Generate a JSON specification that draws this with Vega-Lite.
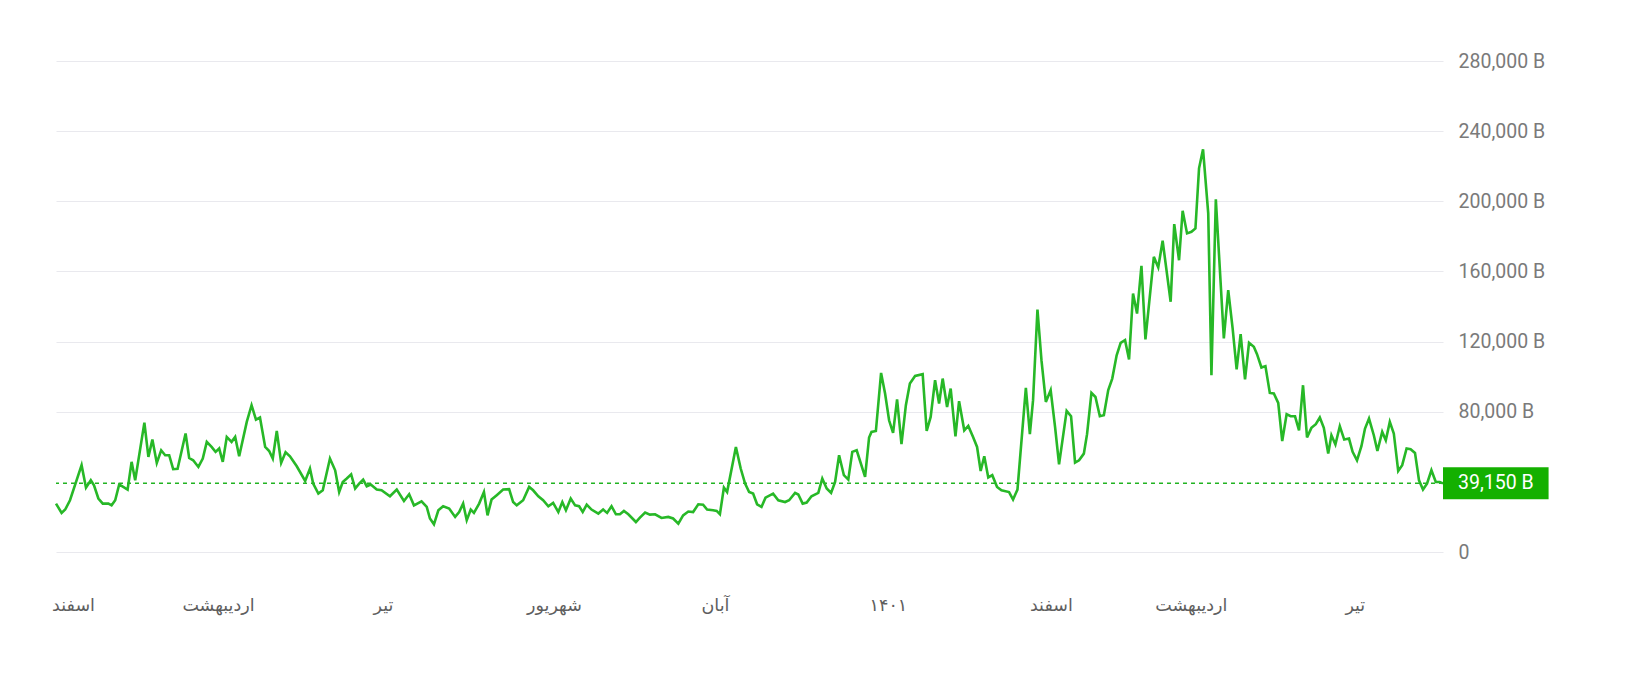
{
  "$schema": "https://vega.github.io/schema/vega-lite/v6.json",
  "width": 1387,
  "height": 491,
  "autosize": {"type": "none"},
  "padding": {"left": 56, "top": 61, "right": 196, "bottom": 140},
  "background": "white",
  "config": {"view": {"stroke": null}},
  "datasets": {
    "series": [
      {"day":0,"value":27600},{"day":1.4,"value":22300},{"day":2.3,"value":24200},{"day":3.5,"value":29500},{"day":5.2,"value":41300},{"day":6.4,"value":49500},{"day":7.5,"value":36700},{"day":8.7,"value":40900},{"day":9.5,"value":38000},{"day":10.6,"value":30500},{"day":11.7,"value":27600},{"day":13.1,"value":27600},{"day":13.9,"value":26600},{"day":14.8,"value":29500},{"day":15.8,"value":38500},{"day":16.8,"value":37100},{"day":17.9,"value":35600},{"day":18.9,"value":51400},{"day":19.8,"value":40900},{"day":22.1,"value":73800},{"day":23.1,"value":54200},{"day":24.1,"value":64100},{"day":25.2,"value":50800},{"day":26.3,"value":58000},{"day":27.3,"value":55200},{"day":28.3,"value":55200},{"day":29.3,"value":47200},{"day":30.4,"value":47400},{"day":32.4,"value":67600},{"day":33.3,"value":53600},{"day":34.3,"value":52300},{"day":35.6,"value":48500},{"day":36.7,"value":53300},{"day":37.7,"value":62800},{"day":38.9,"value":59900},{"day":39.9,"value":57100},{"day":40.8,"value":59000},{"day":41.7,"value":51400},{"day":42.7,"value":65600},{"day":43.9,"value":62800},{"day":44.8,"value":65600},{"day":45.8,"value":54600},{"day":47.7,"value":74200},{"day":48.9,"value":83700},{"day":50,"value":75500},{"day":51,"value":76700},{"day":52.3,"value":59900},{"day":53.3,"value":57600},{"day":54.2,"value":53300},{"day":55.2,"value":69000},{"day":56.3,"value":50800},{"day":57.4,"value":56900},{"day":58.5,"value":54600},{"day":60.2,"value":48900},{"day":62.3,"value":40500},{"day":63.5,"value":47600},{"day":64.3,"value":39000},{"day":65.6,"value":33300},{"day":66.7,"value":35200},{"day":68.5,"value":53300},{"day":69.8,"value":46600},{"day":70.8,"value":34200},{"day":71.7,"value":39900},{"day":72.7,"value":41900},{"day":73.8,"value":44300},{"day":74.8,"value":36200},{"day":75.8,"value":39000},{"day":76.8,"value":41300},{"day":77.7,"value":37500},{"day":78.7,"value":38500},{"day":80.2,"value":35600},{"day":81.4,"value":35200},{"day":83.5,"value":31800},{"day":85.2,"value":35600},{"day":87,"value":29100},{"day":88.3,"value":32900},{"day":89.5,"value":26600},{"day":91.4,"value":28900},{"day":92.7,"value":25700},{"day":93.5,"value":19100},{"day":94.5,"value":15800},{"day":95.6,"value":23800},{"day":96.8,"value":26100},{"day":98.3,"value":24800},{"day":99.8,"value":20000},{"day":100.8,"value":22800},{"day":101.8,"value":27600},{"day":102.7,"value":18100},{"day":103.7,"value":24200},{"day":104.5,"value":22300},{"day":105.8,"value":27600},{"day":107,"value":34200},{"day":107.9,"value":20900},{"day":108.9,"value":29900},{"day":110.2,"value":32400},{"day":111.8,"value":35600},{"day":113.3,"value":35800},{"day":114.3,"value":28500},{"day":115.2,"value":26600},{"day":116.8,"value":29500},{"day":118.3,"value":37100},{"day":119.3,"value":35200},{"day":120.6,"value":31800},{"day":121.8,"value":29500},{"day":123.1,"value":26100},{"day":124.3,"value":28000},{"day":125.6,"value":22800},{"day":126.6,"value":28500},{"day":127.5,"value":23800},{"day":128.7,"value":30500},{"day":129.8,"value":26600},{"day":130.8,"value":26100},{"day":131.7,"value":22800},{"day":132.7,"value":27000},{"day":133.9,"value":24200},{"day":135.6,"value":21900},{"day":136.8,"value":24200},{"day":137.8,"value":22300},{"day":138.9,"value":26100},{"day":140,"value":21500},{"day":141,"value":21500},{"day":142,"value":23400},{"day":143.1,"value":21500},{"day":145,"value":17100},{"day":146,"value":19600},{"day":147.3,"value":22500},{"day":148.5,"value":21300},{"day":149.8,"value":21500},{"day":151.4,"value":19400},{"day":153.1,"value":20000},{"day":154.3,"value":19100},{"day":155.6,"value":16200},{"day":156.8,"value":20900},{"day":158.1,"value":23100},{"day":159.3,"value":22800},{"day":160.6,"value":27200},{"day":161.8,"value":27000},{"day":162.8,"value":24200},{"day":164.3,"value":23800},{"day":165.2,"value":23400},{"day":166,"value":21500},{"day":167,"value":36700},{"day":167.8,"value":34200},{"day":170,"value":59900},{"day":171.2,"value":47600},{"day":172.3,"value":39000},{"day":173.3,"value":34200},{"day":174.3,"value":33300},{"day":175.3,"value":27200},{"day":176.4,"value":25700},{"day":177.4,"value":31000},{"day":179.3,"value":33300},{"day":180.6,"value":29500},{"day":182.3,"value":28500},{"day":183.3,"value":29500},{"day":184.8,"value":33700},{"day":185.6,"value":32800},{"day":186.7,"value":27600},{"day":187.7,"value":28200},{"day":188.9,"value":31800},{"day":190.6,"value":33700},{"day":191.6,"value":41900},{"day":192.7,"value":36200},{"day":193.8,"value":33700},{"day":194.8,"value":39900},{"day":195.8,"value":55200},{"day":197,"value":43800},{"day":198.1,"value":41300},{"day":199.1,"value":57100},{"day":200.2,"value":58000},{"day":202.3,"value":42800},{"day":203.3,"value":65300},{"day":203.9,"value":68500},{"day":205,"value":69000},{"day":206.3,"value":102100},{"day":207.3,"value":90400},{"day":208.3,"value":75100},{"day":209.3,"value":67900},{"day":210.3,"value":87000},{"day":211.4,"value":61500},{"day":212.5,"value":83700},{"day":213.5,"value":96100},{"day":214.8,"value":100400},{"day":216.7,"value":101400},{"day":217.7,"value":69000},{"day":218.7,"value":77000},{"day":219.8,"value":98000},{"day":220.8,"value":84700},{"day":221.7,"value":98900},{"day":222.8,"value":82700},{"day":223.7,"value":93200},{"day":224.9,"value":66000},{"day":225.8,"value":86000},{"day":227.1,"value":69400},{"day":228.1,"value":71900},{"day":229.3,"value":65600},{"day":230.3,"value":59900},{"day":231.2,"value":46200},{"day":232.1,"value":54600},{"day":233.1,"value":42500},{"day":234.1,"value":43800},{"day":235.3,"value":37100},{"day":236.4,"value":35200},{"day":238.3,"value":34200},{"day":239.3,"value":29900},{"day":240.4,"value":35600},{"day":242.5,"value":93600},{"day":243.5,"value":67200},{"day":244.3,"value":86600},{"day":245.4,"value":138300},{"day":246.4,"value":109400},{"day":247.5,"value":85600},{"day":248.7,"value":92300},{"day":249.8,"value":71300},{"day":250.8,"value":50000},{"day":252.7,"value":80500},{"day":253.8,"value":77400},{"day":254.8,"value":51000},{"day":255.8,"value":52300},{"day":257,"value":56100},{"day":257.8,"value":67200},{"day":258.9,"value":90700},{"day":259.9,"value":88400},{"day":261,"value":77400},{"day":262,"value":78000},{"day":263.1,"value":92300},{"day":264.1,"value":98900},{"day":265.2,"value":112200},{"day":266.2,"value":119300},{"day":267.3,"value":120800},{"day":268.3,"value":109800},{"day":269.3,"value":147400},{"day":270.3,"value":136000},{"day":271.4,"value":163200},{"day":272.4,"value":121200},{"day":274.5,"value":168300},{"day":275.6,"value":162300},{"day":276.7,"value":177500},{"day":278.7,"value":142700},{"day":279.6,"value":187000},{"day":280.8,"value":166400},{"day":281.7,"value":194600},{"day":282.8,"value":181700},{"day":283.9,"value":182600},{"day":284.9,"value":184500},{"day":285.8,"value":218800},{"day":286.8,"value":229600},{"day":288.1,"value":193100},{"day":288.9,"value":100800},{"day":290,"value":201100},{"day":292,"value":121800},{"day":293.1,"value":149300},{"day":294.2,"value":127500},{"day":295.2,"value":104100},{"day":296.2,"value":124200},{"day":297.3,"value":98400},{"day":298.3,"value":119300},{"day":299.5,"value":117000},{"day":300.3,"value":112800},{"day":301.4,"value":105200},{"day":302.4,"value":106000},{"day":303.5,"value":90700},{"day":304.5,"value":90400},{"day":305.6,"value":85000},{"day":306.6,"value":63300},{"day":307.7,"value":78600},{"day":308.7,"value":77400},{"day":309.8,"value":77400},{"day":310.8,"value":69400},{"day":311.8,"value":95100},{"day":312.8,"value":65300},{"day":313.9,"value":70800},{"day":315,"value":72900},{"day":316,"value":76700},{"day":317,"value":70800},{"day":318.1,"value":56100},{"day":318.9,"value":66600},{"day":319.9,"value":61300},{"day":321,"value":71700},{"day":322.1,"value":64100},{"day":323.3,"value":64700},{"day":324.2,"value":57100},{"day":325.3,"value":52300},{"day":326.4,"value":60300},{"day":327.3,"value":70400},{"day":328.3,"value":76100},{"day":329.5,"value":66600},{"day":330.4,"value":57600},{"day":331.6,"value":68500},{"day":332.5,"value":63700},{"day":333.5,"value":74200},{"day":334.5,"value":67600},{"day":335.6,"value":46200},{"day":336.6,"value":49500},{"day":337.7,"value":59000},{"day":338.7,"value":58600},{"day":339.8,"value":56500},{"day":340.8,"value":40900},{"day":341.8,"value":35600},{"day":342.8,"value":39000},{"day":343.9,"value":46600},{"day":345,"value":39900},{"day":346,"value":39900},{"day":346.8,"value":39150}
    ],
    "last": [{"day": 346.8, "day_end": 373.2, "value": 39150, "low": 30100, "high": 48300, "label": "39,150 B"}]
  },
  "layer": [
    {
      "data": {"name": "last"},
      "mark": {"type": "rule", "color": "#22b322", "strokeWidth": 1.5, "strokeDash": [4, 4]},
      "encoding": {
        "y": {"field": "value", "type": "quantitative", "scale": {"domain": [0, 280000]},
          "axis": {
            "orient": "right", "title": null, "values": [0, 80000, 120000, 160000, 200000, 240000, 280000],
            "labelExpr": "datum.value == 0 ? '0' : format(datum.value, ',') + ' B'",
            "domain": false, "ticks": false, "labelPadding": 15, "labelFont": "Roboto", "labelFontSize": 19.5,
            "labelColor": "#7a7a7a", "grid": true, "gridColor": "#e9e9ee", "gridWidth": 1.2
          }
        }
      }
    },
    {
      "data": {"name": "series"},
      "mark": {"type": "line", "color": "#27b827", "strokeWidth": 2.6, "strokeJoin": "miter"},
      "encoding": {
        "x": {"field": "day", "type": "quantitative", "scale": {"domain": [0, 346.8], "nice": false, "zero": false},
          "axis": {
            "title": null, "grid": false, "domain": false, "ticks": false,
            "values": [4.25, 40.5, 81.75, 124.5, 164.75, 208, 248.75, 283.75, 324.75],
            "labelExpr": "datum.value < 20 ? 'اسفند' : datum.value < 60 ? 'اردیبهشت' : datum.value < 100 ? 'تیر' : datum.value < 140 ? 'شهریور' : datum.value < 180 ? 'آبان' : datum.value < 230 ? '۱۴۰۱' : datum.value < 265 ? 'اسفند' : datum.value < 300 ? 'اردیبهشت' : 'تیر'",
            "labelFont": "DejaVu Sans", "labelFontSize": 17.5, "labelColor": "#5e5e5e",
            "labelBaseline": "middle", "labelPadding": 53, "labelOverlap": false
          }
        },
        "y": {"field": "value", "type": "quantitative"}
      }
    },
    {
      "data": {"name": "last"},
      "mark": {"type": "rect", "color": "#14b000", "clip": false},
      "encoding": {
        "x": {"field": "day", "type": "quantitative"},
        "x2": {"field": "day_end"},
        "y": {"field": "low", "type": "quantitative"},
        "y2": {"field": "high"}
      }
    },
    {
      "data": {"name": "last"},
      "mark": {"type": "text", "color": "white", "font": "Roboto", "fontSize": 19.5, "align": "left", "baseline": "middle", "dx": 15},
      "encoding": {
        "x": {"field": "day", "type": "quantitative"},
        "y": {"field": "value", "type": "quantitative"},
        "text": {"field": "label"}
      }
    }
  ]
}
